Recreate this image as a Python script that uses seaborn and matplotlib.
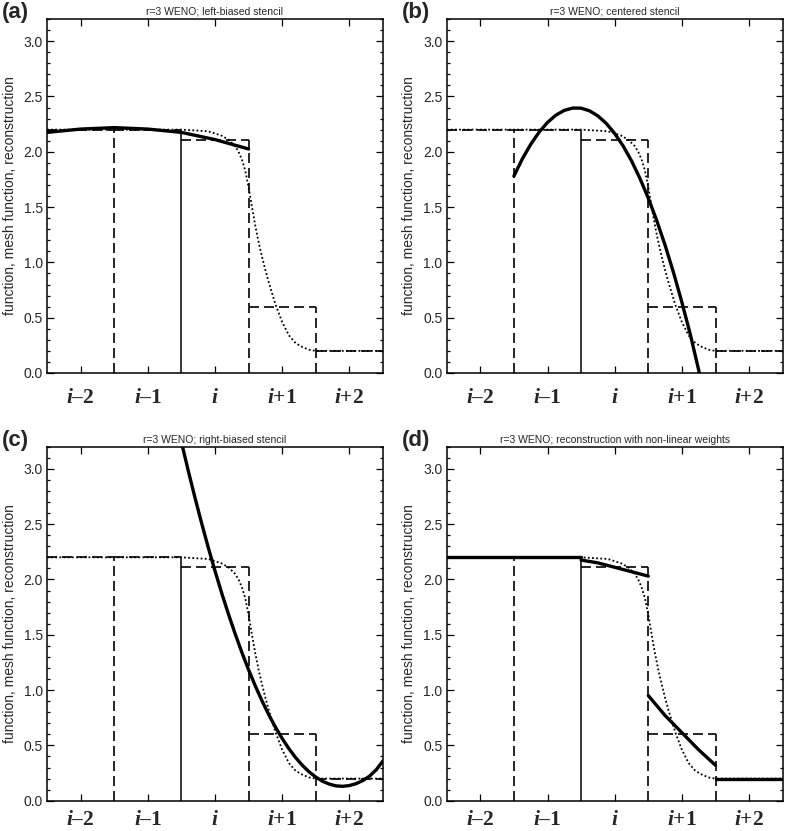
import numpy as np
import pandas as pd
import matplotlib
matplotlib.use('Agg')
import matplotlib.pyplot as plt
import seaborn as sns
from matplotlib.ticker import MultipleLocator, FormatStrFormatter

sns.set_theme(style='ticks')
plt.rcParams['font.family'] = ['Liberation Sans', 'DejaVu Sans']
plt.rcParams['mathtext.fontset'] = 'custom'
plt.rcParams['mathtext.it'] = 'Liberation Serif:italic:bold'
plt.rcParams['mathtext.rm'] = 'Liberation Serif:bold'
plt.rcParams['mathtext.bf'] = 'Liberation Serif:bold'

# cells (x in units of cell width), cell averages = mesh function
cell_edges = [0, 1, 2, 3, 4, 5]
cell_mean = [2.2, 2.2, 2.11, 0.6, 0.2]
cell_labels = [r'$\mathit{i}$–2', r'$\mathit{i}$–1', r'$\mathit{i}$',
               r'$\mathit{i}$+1', r'$\mathit{i}$+2']

# exact function (dotted)
exact_x = [0.0, 2.0, 2.4, 2.6, 2.7, 2.8, 2.85, 2.9, 2.95, 3.0, 3.05, 3.1, 3.15,
           3.2, 3.25, 3.3, 3.4, 3.5, 3.6, 3.7, 3.8, 3.9, 4.0, 5.0]
exact_y = [2.2, 2.2, 2.185, 2.145, 2.11, 2.05, 2.0, 1.93, 1.83, 1.68, 1.5, 1.33, 1.18,
           1.05, 0.93, 0.82, 0.62, 0.46, 0.34, 0.27, 0.235, 0.21, 0.2, 0.2]

# reconstructions (thick solid)
left_x = [0.0, 0.5, 1.0, 1.5, 2.0, 2.5, 3.0]
left_y = [2.175, 2.205, 2.218, 2.205, 2.175, 2.11, 2.025]

center_x = [1.0, 1.125, 1.25, 1.375, 1.5, 1.625, 1.75, 1.875, 2.0, 2.125, 2.25, 2.375,
            2.5, 2.625, 2.75, 2.875, 3.0, 3.125, 3.25, 3.375, 3.5, 3.625, 3.76]
center_y = [1.78, 1.935, 2.067, 2.177, 2.265, 2.331, 2.374, 2.395, 2.394, 2.37, 2.324, 2.256,
            2.165, 2.053, 1.918, 1.76, 1.58, 1.379, 1.155, 0.908, 0.639, 0.349, 0.0]

right_x = [2.0, 2.1, 2.2, 2.3, 2.4, 2.5, 2.6, 2.7, 2.8, 2.9, 3.0, 3.1, 3.2, 3.3, 3.4, 3.5,
           3.6, 3.7, 3.8, 3.9, 4.0, 4.1, 4.2, 4.3, 4.4, 4.5, 4.6, 4.7, 4.8, 4.9, 5.0]
right_y = [3.243, 2.988, 2.744, 2.511, 2.288, 2.077, 1.876, 1.687, 1.508, 1.34, 1.183, 1.037,
           0.902, 0.777, 0.664, 0.562, 0.47, 0.389, 0.32, 0.261, 0.213, 0.176, 0.15, 0.134,
           0.13, 0.137, 0.154, 0.182, 0.222, 0.28, 0.36]

weno_seg = [0, 0, 1, 1, 1, 1, 1, 2, 2, 2, 2, 2, 3, 3]
weno_x = [0.0, 2.0, 2.0, 2.25, 2.5, 2.75, 3.0, 3.0, 3.25, 3.5, 3.75, 4.0, 4.0, 5.0]
weno_y = [2.2, 2.2, 2.175, 2.15, 2.11, 2.07, 2.03, 0.95, 0.77, 0.615, 0.46, 0.32, 0.2, 0.2]

titles = ['r=3 WENO; left-biased stencil', 'r=3 WENO; centered stencil',
          'r=3 WENO; right-biased stencil', 'r=3 WENO; reconstruction with non-linear weights']
letters = ['(a)', '(b)', '(c)', '(d)']

recon = [
    pd.DataFrame({'x': left_x, 'y': left_y, 'seg': 0}),
    pd.DataFrame({'x': center_x, 'y': center_y, 'seg': 0}),
    pd.DataFrame({'x': right_x, 'y': right_y, 'seg': 0}),
    pd.DataFrame({'x': weno_x, 'y': weno_y, 'seg': weno_seg}),
]
exact = pd.DataFrame({'x': exact_x, 'y': exact_y})

W, H = 788, 831
fig = plt.figure(figsize=(W / 100, H / 100), dpi=100)
boxes = [(47, 19), (446.7, 19), (47, 446.7), (446.7, 446.7)]
aw, ah = 336, 354
dash = (0, (6, 3))

for k in range(4):
    x0, y0 = boxes[k]
    ax = fig.add_axes([x0 / W, 1 - (y0 + ah) / H, aw / W, ah / H])

    # mesh function: cell tops and interfaces
    for c in range(5):
        ax.plot([cell_edges[c], cell_edges[c + 1]], [cell_mean[c]] * 2,
                color='black', lw=1.2, ls=dash)
    for e in range(1, 5):
        top = max(cell_mean[e - 1], cell_mean[e])
        if e == 2:
            ax.plot([e, e], [0, top], color='black', lw=1.1)
        else:
            ax.plot([e, e], [0, top], color='black', lw=1.2, ls=dash)

    sns.lineplot(data=exact, x='x', y='y', color='black', lw=1.3,
                 linestyle=(0, (1, 1.3)), estimator=None, sort=False, ax=ax)
    sns.lineplot(data=recon[k], x='x', y='y', units='seg', color='black', lw=2.4,
                 estimator=None, sort=False, ax=ax)

    ax.set_xlim(0, 5)
    ax.set_ylim(0, 3.2)
    ax.set_xticks([0.5, 1.5, 2.5, 3.5, 4.5])
    ax.set_xticklabels(cell_labels, fontsize=15.5, family='Liberation Serif', fontweight='bold')
    ax.yaxis.set_major_locator(MultipleLocator(0.5))
    ax.yaxis.set_minor_locator(MultipleLocator(0.1))
    ax.yaxis.set_major_formatter(FormatStrFormatter('%.1f'))
    ax.tick_params(axis='both', which='both', direction='in', top=True, right=True,
                   color='black', width=0.9)
    ax.tick_params(axis='both', which='major', length=5)
    ax.tick_params(axis='y', which='minor', length=2.5)
    ax.tick_params(axis='x', which='major', pad=11 if k < 2 else 7)
    ax.tick_params(axis='y', labelsize=10, pad=3)
    for s in ax.spines.values():
        s.set_linewidth(1.1)
        s.set_color('black')
    ax.set_xlabel('')
    ax.set_ylabel('function, mesh function, reconstruction', fontsize=10, labelpad=5)
    ax.set_title(titles[k], fontsize=7.5, pad=3)

    fig.text((x0 - 45) / W, 1 - (y0 - 17) / H, letters[k], fontsize=16,
             fontweight='bold', ha='left', va='top')

fig.savefig('out.png', dpi=100)
